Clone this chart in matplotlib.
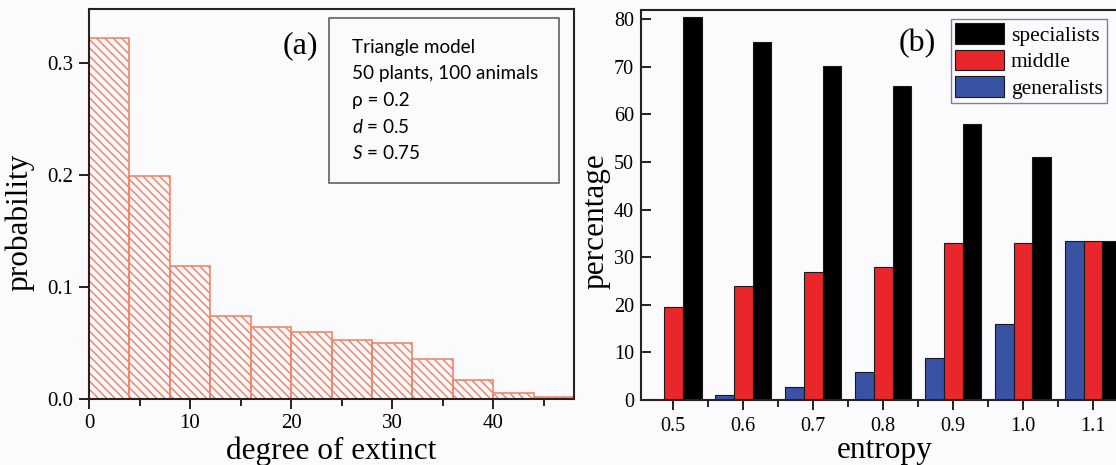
import matplotlib
matplotlib.use("Agg")
import matplotlib.pyplot as plt
import numpy as np
from matplotlib.patches import Rectangle
from matplotlib.ticker import MultipleLocator, FormatStrFormatter

# (a) distribution of extinction degree, bins of width 4
bin_left = np.arange(0, 48, 4)
prob = [0.322, 0.199, 0.119, 0.074, 0.064, 0.060, 0.053, 0.050, 0.036, 0.017, 0.005, 0.0015]
model_info = ["Triangle model", "50 plants, 100 animals", "\u03c1 = 0.2",
              "$d$ = 0.5", "$S$ = 0.75"]

# (b) share of each species class vs. entropy
entropy = [0.5, 0.6, 0.7, 0.8, 0.9, 1.0, 1.1]
specialists = [80.4, 75.2, 70.2, 66.0, 58.0, 51.0, 33.3]
middle = [19.6, 24.0, 26.8, 27.9, 32.9, 32.9, 33.3]
generalists = [0.0, 1.0, 2.7, 5.9, 8.9, 16.0, 33.3]

W, H = 1116, 465
BG = "#fbfbfd"
SPINE = "#2a2020"
plt.rcParams["font.family"] = "Liberation Serif"
plt.rcParams["hatch.linewidth"] = 1.1
plt.rcParams["mathtext.fontset"] = "custom"
plt.rcParams["mathtext.rm"] = "Lato"
plt.rcParams["mathtext.it"] = "Lato:italic"


def px(x0, y0, x1, y1):
    """pixel box (top-left origin) -> figure fraction rect"""
    return [x0 / W, 1 - y1 / H, (x1 - x0) / W, (y1 - y0) / H]


fig = plt.figure(figsize=(W / 100, H / 100), dpi=100, facecolor=BG)

# ---- panel (a)
ax1 = fig.add_axes(px(89, 9, 574, 399), facecolor=BG)
ax1.bar(bin_left, prob, width=4, align="edge", facecolor="none",
        edgecolor="#f4846a", hatch="\\\\\\\\", linewidth=1.2)
ax1.set_xlim(0, 48)
ax1.set_ylim(0, 0.348)
ax1.xaxis.set_major_locator(MultipleLocator(10))
ax1.xaxis.set_minor_locator(MultipleLocator(5))
ax1.yaxis.set_major_locator(MultipleLocator(0.1))
ax1.yaxis.set_major_formatter(FormatStrFormatter("%.1f"))
ax1.tick_params(which="both", direction="out", labelsize=15, width=1.4,
                color=SPINE, pad=4)
ax1.tick_params(which="major", length=7)
ax1.tick_params(which="minor", length=5)
for s in ax1.spines.values():
    s.set_linewidth(1.5)
    s.set_color(SPINE)
ax1.set_xlabel("degree of extinct", fontsize=22.5, labelpad=2)
ax1.set_ylabel("probability", fontsize=22.5)
ax1.yaxis.set_label_coords(-0.113, 0.454)
ax1.text(300 / W, 1 - 46 / H, "(a)", transform=fig.transFigure, fontsize=23,
         ha="center", va="center")

# parameter box
fig.add_artist(Rectangle((329 / W, 1 - 183 / H), 230 / W, 165 / H,
                         transform=fig.transFigure, facecolor="none",
                         edgecolor="#555555", linewidth=1.1))
for i, line in enumerate(model_info):
    fig.text(352 / W, 1 - (47 + 26.6 * i) / H, line, family=["Lato", "DejaVu Sans"],
             fontsize=13.6, ha="left", va="center")

# ---- panel (b)
ax2 = fig.add_axes(px(641, 10, 1128, 400), facecolor=BG)
x = np.array(entropy)
w = 0.027
ax2.bar(x - w, generalists, width=w, color="#3a52a4", edgecolor="#1a1a1a",
        linewidth=0.8, label="generalists")
ax2.bar(x, middle, width=w, color="#e8262c", edgecolor="#1a1a1a",
        linewidth=0.8, label="middle")
ax2.bar(x + w, specialists, width=w, color="#000000", edgecolor="#1a1a1a",
        linewidth=0.8, label="specialists")
ax2.set_xlim(0.454, 1.15)
ax2.set_ylim(0, 81.9)
ax2.set_xticks(entropy)
ax2.set_xticklabels([f"{v:.1f}" for v in entropy])
ax2.xaxis.set_minor_locator(MultipleLocator(0.05))
ax2.yaxis.set_major_locator(MultipleLocator(10))
ax2.tick_params(axis="y", direction="in", length=7, width=1.4, labelsize=14.5,
                color=SPINE, pad=5)
ax2.tick_params(axis="x", which="both", direction="out", width=1.4,
                labelsize=14.5, color=SPINE, pad=5)
ax2.tick_params(axis="x", which="major", length=7)
ax2.tick_params(axis="x", which="minor", length=5)
for s in ax2.spines.values():
    s.set_linewidth(1.5)
    s.set_color(SPINE)
ax2.set_xlabel("entropy", fontsize=22.5, labelpad=0)
ax2.set_ylabel("percentage", fontsize=22.5)
ax2.yaxis.set_label_coords(-0.062, 0.459)
ax2.text(917 / W, 1 - 44 / H, "(b)", transform=fig.transFigure, fontsize=23,
         ha="center", va="center")

handles, labels = ax2.get_legend_handles_labels()
leg = ax2.legend(handles[::-1], labels[::-1], loc="upper left",
                 bbox_to_anchor=(951 / W, 1 - 19 / H),
                 bbox_transform=fig.transFigure,
                 fontsize=15.5, handlelength=2.26, handleheight=1.1,
                 handletextpad=0.32, labelspacing=0.18, borderpad=0.2,
                 borderaxespad=0, fancybox=False, frameon=True)
leg.get_frame().set_edgecolor("#5a6670")
leg.get_frame().set_linewidth(1.0)
leg.get_frame().set_facecolor(BG)

fig.savefig("out.png", dpi=100, facecolor=BG)
